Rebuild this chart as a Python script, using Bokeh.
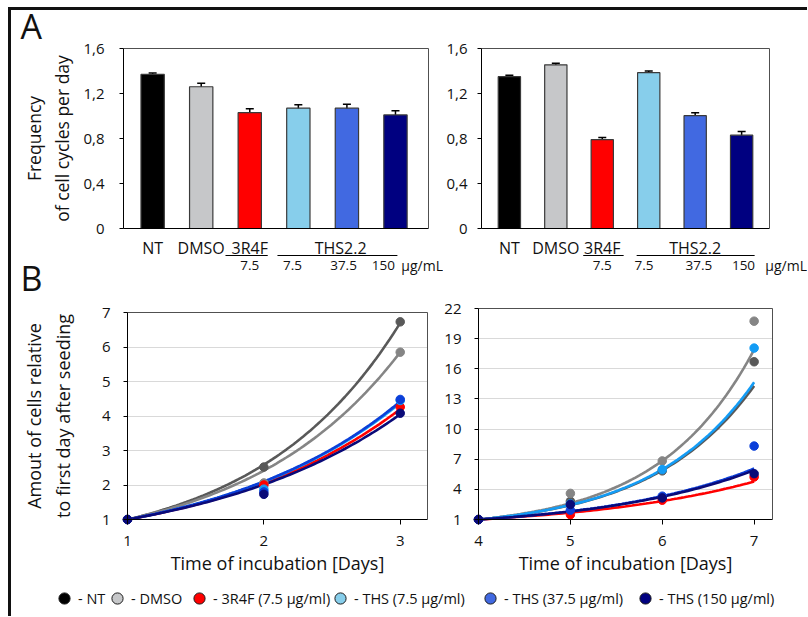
import numpy as np
from bokeh.plotting import figure
from bokeh.models import (Range1d, FixedTicker, Whisker, TeeHead, Label, Arrow, Grid,
                          LinearAxis, ColumnDataSource, Legend, LegendItem)
from bokeh.layouts import row, column
from bokeh.embed import file_html
from bokeh.resources import INLINE

FONT = "Open Sans"
TXT = "#111111"

# ---------------- Panel A data ----------------
bar_groups = ["NT", "DMSO", "3R4F 7.5", "THS2.2 7.5", "THS2.2 37.5", "THS2.2 150"]
bar_colors = ["#000000", "#c6c7c9", "#ff0000", "#87ceeb", "#4169e1", "#000080"]
freq_left = [1.37, 1.26, 1.03, 1.07, 1.07, 1.01]
err_left = [0.012, 0.032, 0.035, 0.030, 0.035, 0.036]
freq_right = [1.35, 1.455, 0.79, 1.385, 1.003, 0.83]
err_right = [0.012, 0.015, 0.020, 0.015, 0.027, 0.033]
y_ticks_A = [0, 0.4, 0.8, 1.2, 1.6]
y_tick_labels_A = ["0", "0,4", "0,8", "1,2", "1,6"]
cat_labels = ["NT", "DMSO", "3R4F"]
group_label = "THS2.2"
dose_labels = ["7.5", "7.5", "37.5", "150"]
unit_label = "µg/mL"

# ---------------- Panel B data ----------------
series_names = ["NT", "DMSO", "3R4F", "THS 7.5", "THS 37.5", "THS 150"]
series_colors = ["#595959", "#858585", "#ff0000", "#139cf5", "#0b3fd9", "#0a0a78"]
days_left = [1, 2, 3]
days_right = [4, 5, 6, 7]
left_NT = [1.0, 2.52, 6.73]
left_DMSO = [1.0, 2.06, 5.85]
left_3R4F = [1.0, 2.0, 4.26]
left_THS75 = [1.0, 1.88, 4.45]
left_THS375 = [1.0, 1.80, 4.48]
left_THS150 = [1.0, 1.73, 4.08]
right_NT = [1.0, 2.82, 5.84, 16.7]
right_DMSO = [1.0, 3.60, 6.83, 20.74]
right_3R4F = [1.0, 1.48, 2.92, 5.23]
right_THS75 = [1.0, 2.55, 5.97, 18.06]
right_THS375 = [1.0, 1.93, 3.32, 8.31]
right_THS150 = [1.0, 2.50, 3.15, 5.56]
# exponential trendline values at first / last day
trend_start_left = [1.0, 1.0, 1.0, 1.0, 1.0, 1.0]
trend_end_left = [6.70, 5.85, 4.20, 4.38, 4.42, 4.05]
trend_start_right = [1.0, 1.0, 1.0, 1.0, 1.0, 1.0]
trend_end_right = [14.3, 17.9, 4.78, 14.66, 6.07, 5.90]
y_ticks_left_B = [1, 2, 3, 4, 5, 6, 7]
y_ticks_right_B = [1, 4, 7, 10, 13, 16, 19, 22]

legend_labels = ["- NT", "- DMSO", "- 3R4F (7.5 µg/ml)", "- THS (7.5 µg/ml)",
                 "- THS (37.5 µg/ml)", "- THS (150 µg/ml)"]
legend_colors = ["#000000", "#c6c7c9", "#ff0000", "#87ceeb", "#4169e1", "#000080"]


def ranges(W, H, fx0, fx1, fy0, fy1, dx0, dx1, dy0, dy1):
    """Ranges so that data box (dx0..dx1, dy0..dy1) sits at local pixels
    (fx0..fx1 from left, fy0 = bottom, fy1 = top, from top) in a full-canvas frame."""
    sx = (fx1 - fx0) / (dx1 - dx0)
    sy = (fy0 - fy1) / (dy1 - dy0)
    return (Range1d(dx0 - fx0 / sx, dx1 + (W - fx1) / sx),
            Range1d(dy0 - (H - fy0) / sy, dy1 + fy1 / sy))


def make_fig(W, H, xr, yr):
    p = figure(width=W, height=H, x_range=xr, y_range=yr, min_border=0,
               x_axis_location=None, y_axis_location=None, outline_line_color=None,
               output_backend="svg", toolbar_location=None)
    p.title.visible = False
    p.grid.visible = False
    # transparent canvas so the page frame (drawn by the layout) shows through
    p.background_fill_color = None
    p.border_fill_color = None
    return p


def add_axis(p, side, loc, bounds, ticks=(), color="black", tick_out=0, overrides=None,
             std=5, label=None, label_size="18px", label_std=5, font_size="15px"):
    ax = LinearAxis(fixed_location=loc, bounds=bounds, ticker=FixedTicker(ticks=list(ticks)),
                    axis_line_color=color, axis_line_width=1,
                    major_tick_line_color=color if ticks else None,
                    major_tick_in=0, major_tick_out=tick_out, minor_tick_line_color=None,
                    major_label_text_font=FONT, major_label_text_font_size=font_size,
                    major_label_text_color=TXT, major_label_standoff=std)
    if overrides:
        ax.major_label_overrides = overrides
    if label:
        ax.axis_label = label
        ax.axis_label_text_font = FONT
        ax.axis_label_text_font_size = label_size
        ax.axis_label_text_font_style = "normal"
        ax.axis_label_text_color = TXT
        ax.axis_label_standoff = label_std
    p.add_layout(ax, side)
    return ax


def add_text(p, x, y, text, size, align="center", baseline="middle"):
    p.add_layout(Label(x=x, y=y, text=text, text_font=FONT, text_font_size=size,
                       text_align=align, text_baseline=baseline, text_color=TXT))


def add_underline(p, x0, x1, y):
    p.add_layout(Arrow(x_start=x0, y_start=y, x_end=x1, y_end=y, start=None, end=None,
                       line_color="black", line_width=1))


def bar_panel(W, H, fx0, fx1, vals, errs, xlim, std, ylabel=None, label_std=6):
    xr, yr = ranges(W, H, fx0, fx1, 228, 48, xlim[0], xlim[1], 0, 1.6)
    p = make_fig(W, H, xr, yr)
    pos = list(range(1, len(vals) + 1))
    src = ColumnDataSource(dict(
        x=pos, top=vals, color=bar_colors,
        upper=[v + e for v, e in zip(vals, errs)],
        lower=[v - e for v, e in zip(vals, errs)]))
    p.vbar(x="x", top="top", width=0.48, fill_color="color", line_color="#3a3a3a",
           line_width=1.2, source=src)
    p.add_layout(Whisker(base="x", upper="upper", lower="lower", source=src,
                         line_color="black", line_width=1.5,
                         upper_head=TeeHead(size=8, line_width=1.5, line_color="black"),
                         lower_head=TeeHead(size=8, line_width=1.5, line_color="black")))
    add_axis(p, "above", 1.6, (xlim[0], xlim[1]), color="#505050")
    add_axis(p, "right", xlim[1], (0, 1.6), color="#505050")
    add_axis(p, "below", 0, (xlim[0], xlim[1]))
    add_axis(p, "left", xlim[0], (0, 1.6), ticks=y_ticks_A, tick_out=4,
             overrides=dict(zip(y_ticks_A, y_tick_labels_A)), std=std,
             label=ylabel, label_size="17.5px", label_std=label_std)
    return p


# layout split (canvas pixels)
WL, WR = 443, 364
HA_L, HA_R = 301, 297
H_TOTAL = 580

# ---------- A ----------
XL_A1 = (0.40, 6.68)
XL_A2 = (0.40, 6.60)
pA1 = bar_panel(WL, HA_L, 123, 428, freq_left, err_left, XL_A1, 15,
                ylabel="Frequency\nof cell cycles per day", label_std=6)
pA2 = bar_panel(WR, HA_R, 481 - WL, 769 - WL, freq_right, err_right, XL_A2, 10)

Y_CAT, Y_LINE, Y_DOSE = -0.169, -0.24, -0.329
for i, t in enumerate(cat_labels):
    add_text(pA1, i + 1, Y_CAT, t, "16px")
add_text(pA1, 4.87, Y_CAT, group_label, "16px")
add_underline(pA1, 2.50, 3.37, Y_LINE)
add_underline(pA1, 3.57, 6.04, Y_LINE)
for xpos, t in zip([3.0, 3.88, 4.93, 5.75], dose_labels):
    add_text(pA1, xpos, Y_DOSE, t, "13.5px")
add_text(pA1, 6.12, Y_DOSE, unit_label, "14px", align="left")
add_text(pA1, -1.72, 1.798, "A", "34px", align="left", baseline="alphabetic")
add_text(pA1, -1.72, -0.44, "B", "34px", align="left", baseline="alphabetic")

for i, t in enumerate(cat_labels):
    add_text(pA2, i + 1, Y_CAT, t, "16px")
add_text(pA2, 5.0, Y_CAT, group_label, "16px")
add_underline(pA2, 2.59, 3.46, Y_LINE)
add_underline(pA2, 3.74, 6.28, Y_LINE)
for xpos, t in zip([3.0, 3.9, 5.08, 6.04], dose_labels):
    add_text(pA2, xpos, Y_DOSE, t, "13.5px")
add_text(pA2, 6.51, Y_DOSE, unit_label, "14px", align="left")


# ---------- B ----------
def growth_panel(W, H, fx0, fx1, fy0, fy1, days, xmax, values, t_start, t_end, ymax,
                 yticks, ylabel=None, std=13):
    xr, yr = ranges(W, H, fx0, fx1, fy0, fy1, days[0], xmax, 1, ymax)
    p = make_fig(W, H, xr, yr)
    gkw = dict(dimension=1, ticker=FixedTicker(ticks=yticks), grid_line_color="#d9d9d9",
               grid_line_width=1)
    if "cross_bounds" in Grid.properties():
        gkw["cross_bounds"] = (days[0], xmax)
        p.add_layout(Grid(**gkw))
    else:
        p.segment(x0=[days[0]] * len(yticks), x1=[xmax] * len(yticks), y0=yticks,
                  y1=yticks, line_color="#d9d9d9", line_width=1)
    x0, x1 = days[0], days[-1]
    for s, e, col in zip(t_start, t_end, series_colors):
        xs = np.linspace(x0, x1, 80)
        ys = s * (e / s) ** ((xs - x0) / (x1 - x0))
        p.line(xs, ys, line_color=col, line_width=2.6)
    for vals, col in zip(values, series_colors):
        p.scatter(days, vals, size=8.5, fill_color=col, line_color=col)
    add_axis(p, "above", ymax, (days[0], xmax), color="#505050")
    add_axis(p, "right", xmax, (1, ymax), color="#505050")
    add_axis(p, "below", 1, (days[0], xmax), ticks=days, tick_out=5, std=11,
             label="Time of incubation [Days]", label_size="18px", label_std=2)
    add_axis(p, "left", days[0], (1, ymax), ticks=yticks, tick_out=4, std=std,
             label=ylabel, label_size="18px", label_std=24)
    return p


HB_L = H_TOTAL - HA_L
HB_R = H_TOTAL - HA_R
pB1 = growth_panel(WL, HB_L, 127, 427, 519 - HA_L, 312 - HA_L, days_left, 3.2,
                   [left_NT, left_DMSO, left_3R4F, left_THS75, left_THS375, left_THS150],
                   trend_start_left, trend_end_left, 7, y_ticks_left_B,
                   ylabel="Amout of cells relative\nto first day after seeding")
pB2 = growth_panel(WR, HB_R, 478 - WL, 772 - WL, 519 - HA_R, 308 - HA_R, days_right, 7.2,
                   [right_NT, right_DMSO, right_3R4F, right_THS75, right_THS375, right_THS150],
                   trend_start_right, trend_end_right, 22, y_ticks_right_B, std=13)

# ---------- legend ----------
HL = 36
leg = make_fig(WL + WR, HL, Range1d(0, 1), Range1d(0, 1))
legend_dot_x = [64, 117, 199, 340, 490, 645]
for lab, col, dx in zip(legend_labels, legend_colors, legend_dot_x):
    r = leg.scatter(x=[np.nan], y=[np.nan], fill_color=col, line_color="#1a1a1a",
                    line_width=1)
    leg.add_layout(Legend(items=[LegendItem(label=lab, renderers=[r])],
                          location=(dx - 14, 4), glyph_width=28, glyph_height=28,
                          label_standoff=-7, padding=0, margin=0, border_line_color=None,
                          background_fill_alpha=0, label_text_font=FONT,
                          label_text_font_size="14.5px", label_text_color=TXT))

# the black panel frame (top and left rules) is painted as the layout's background
frame_css = ("linear-gradient(#111111, #111111) 8px 8px / 3px 100% no-repeat, "
             "linear-gradient(#111111, #111111) 8px 7px / 100% 3px no-repeat, #ffffff")
layout = column(row(column(pA1, pB1), column(pA2, pB2)), leg,
                styles={"background": frame_css})

open("out.html", "w").write(file_html(layout, INLINE))
